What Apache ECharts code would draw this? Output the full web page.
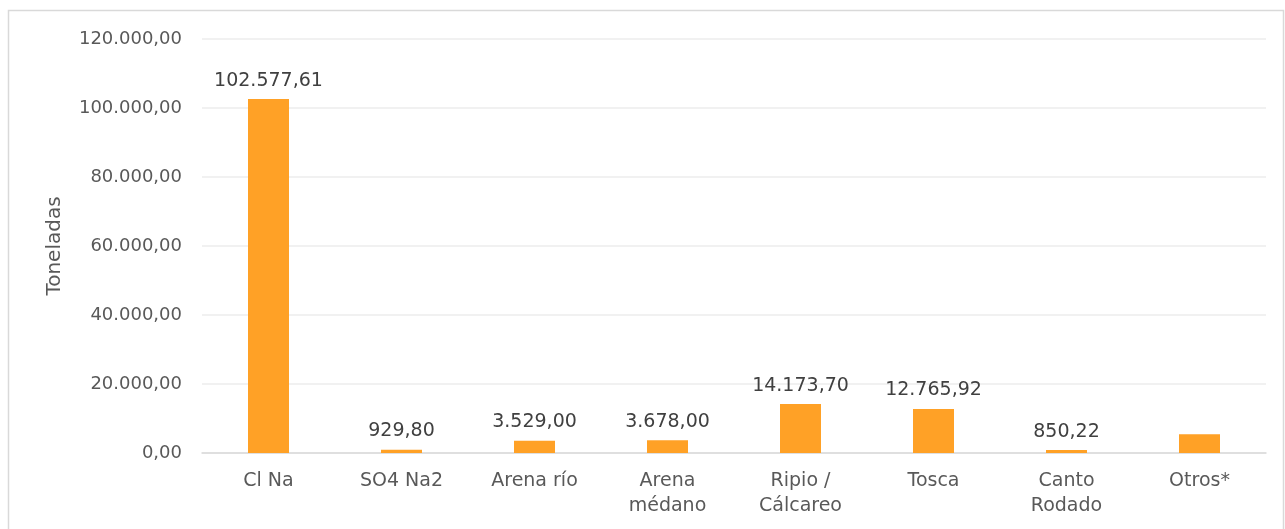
<!DOCTYPE html>
<html>
<head>
<meta charset="utf-8">
<script src="https://cdn.jsdelivr.net/npm/echarts@6/dist/echarts.min.js"></script>
<style>
  html, body { margin: 0; padding: 0; background: #fff; }
  #chart { width: 1285px; height: 529px; }
</style>
</head>
<body>
<div id="chart"></div>
<script>
// datos
const categories = ['Cl Na', 'SO4 Na2', 'Arena río', 'Arena\nmédano', 'Ripio /\nCálcareo', 'Tosca', 'Canto\nRodado', 'Otros*']
const toneladas = [102577.61, 929.80, 3529.00, 3678.00, 14173.70, 12765.92, 850.22, 5400]
const showLabel = [true, true, true, true, true, true, true, false]

// formato español: 102.577,61
const fmt = (v) => {
  const parts = v.toFixed(2).split('.')
  const ent = parts[0].replace(/\B(?=(\d{3})+(?!\d))/g, '.')
  return ent + ',' + parts[1]
}

const font = '"DejaVu Sans", sans-serif'
const chart = echarts.init(document.getElementById('chart'))

chart.setOption({
  animation: false,
  textStyle: { fontFamily: font },
  graphic: [{
    type: 'rect',
    shape: { x: 8.5, y: 10.5, width: 1275, height: 530 },
    style: { fill: 'none', stroke: '#d9d9d9', lineWidth: 1.5 },
    silent: true,
  }],
  grid: { left: 202, right: 19, top: 39, bottom: 76 },
  xAxis: {
    type: 'category',
    data: categories,
    axisTick: { show: false },
    axisLine: { lineStyle: { color: '#d9d9d9', width: 1.5 } },
    axisLabel: { color: '#595959', fontSize: 19, lineHeight: 25, margin: 16, interval: 0, fontFamily: font },
  },
  yAxis: {
    type: 'value',
    min: 0,
    max: 120000,
    interval: 20000,
    name: 'Toneladas',
    nameLocation: 'middle',
    nameGap: 137,
    nameTextStyle: { color: '#595959', fontSize: 20, fontFamily: font },
    axisLine: { show: false },
    axisTick: { show: false },
    splitLine: { lineStyle: { color: '#ececec', width: 1.5 } },
    axisLabel: { color: '#595959', fontSize: 18, margin: 20, fontFamily: font, formatter: (v) => fmt(v) },
  },
  series: [{
    type: 'bar',
    data: toneladas.map((v, i) => ({ value: v, label: { show: showLabel[i] } })),
    barWidth: 41,
    itemStyle: { color: '#ffa126' },
    label: {
      position: 'top',
      distance: 9,
      color: '#404040',
      fontSize: 19,
      fontFamily: font,
      formatter: (p) => fmt(p.value),
    },
  }],
})
</script>
</body>
</html>
